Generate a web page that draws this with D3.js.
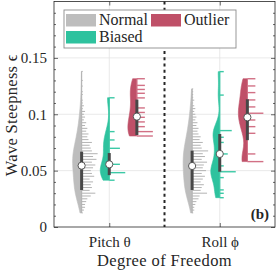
<!DOCTYPE html>
<html>
<head>
<meta charset="utf-8">
<script src="https://cdn.jsdelivr.net/npm/d3@7"></script>
<style>
  body { margin: 0; background: #fff; }
</style>
</head>
<body>
<div id="chart"></div>
<script>
// Categories
const dofs = ["Pitch θ", "Roll ϕ"];
const methods = ["Normal", "Biased", "Outlier"];
const yTicks = [0, 0.05, 0.1, 0.15];

// Histogram stems (value, count) for each DOF and method
const grayPitchVals = [0.0125,0.015,0.0175,0.02,0.0225,0.025,0.0275,0.03,0.0325,0.035,0.0375,0.04,0.0425,0.045,0.0475,0.05,0.0525,0.055,0.0575,0.06,0.0625,0.065,0.0675,0.07,0.0725,0.075,0.0775,0.08,0.0825,0.085,0.0875,0.09,0.0925,0.095,0.0975,0.1,0.1025,0.105,0.1075,0.11,0.1125,0.1175,0.12,0.125,0.13,0.138];
const grayPitchCounts = [1,2,3,3,4,5,8,12,7,9,8,10,7,11,9,8,10,12,9,13,10,14,9,8,7,9,6,5,6,4,5,3,4,2,3,2,3,1,2,1,1,1,1,1,1,1];
const grayRollVals = [0.0125,0.015,0.0175,0.02,0.0225,0.025,0.0275,0.03,0.0325,0.035,0.0375,0.04,0.0425,0.045,0.0475,0.05,0.0525,0.055,0.0575,0.06,0.0625,0.065,0.0675,0.07,0.0725,0.075,0.0775,0.08,0.0825,0.085,0.0875,0.09,0.0925,0.095,0.0975,0.1,0.1025,0.105,0.1075,0.11,0.1125,0.115,0.1175,0.12,0.1225];
const grayRollCounts = [1,2,2,3,4,6,7,14,8,9,11,8,10,12,9,13,10,11,14,9,12,10,15,9,8,10,7,8,6,5,6,4,5,3,4,3,2,3,2,1,2,1,1,1,1];
const greenPitchVals = [0.0415,0.0482,0.0556,0.0698,0.0772,0.0846,0.1146];
const greenPitchCounts = [1,3,2,2,1,1,1];
const greenRollVals = [0.026,0.0299,0.0329,0.0438,0.049,0.0542,0.0648,0.075,0.0796,0.0855,0.117,0.1378];
const greenRollCounts = [1,1,1,1,4,1,2,1,1,3,1,1];
const redPitchVals = [0.0807,0.0846,0.089,0.0932,0.0973,0.1016,0.1056,0.1145,0.1186,0.122,0.1256,0.1315];
const redPitchCounts = [2,2,1,1,1,1,1,1,1,1,1,1];
const redRollVals = [0.058,0.0648,0.0831,0.089,0.0949,0.1009,0.1065,0.1127,0.1192,0.1251,0.1315];
const redRollCounts = [2,1,1,1,1,2,1,1,1,1,1];

// Box stats per method (Normal, Biased, Outlier)
const pitchQ1 = [0.0328, 0.046, 0.0816];
const pitchMed = [0.0544, 0.0556, 0.0979];
const pitchQ3 = [0.0668, 0.0656, 0.113];
const rollQ1 = [0.0328, 0.049, 0.077];
const rollMed = [0.0541, 0.0648, 0.0973];
const rollQ3 = [0.0677, 0.0825, 0.1133];

const fills = ["#bdbdbd", "#2ec29e", "#bf5068"];
const stems = ["#b3b3b3", "#3cc9a6", "#d27085"];
const serif = "Liberation Serif";

const W = 278, H = 271;
const margin = {top: 1.5, right: 3, bottom: 44, left: 54};
const iw = W - margin.left - margin.right, ih = H - margin.top - margin.bottom;

const svg = d3.select("#chart").append("svg")
    .attr("width", W).attr("height", H);
const g = svg.append("g")
    .attr("transform", "translate(" + margin.left + "," + margin.top + ")");

const x = d3.scaleLinear().domain([0.5, 2.5]).range([0, iw]);
const y = d3.scaleLinear().domain([0, 0.2]).range([ih, 0]);

// Grid
g.selectAll(".hgrid").data(yTicks.slice(1)).enter().append("line")
    .attr("x1", 0).attr("x2", iw)
    .attr("y1", d => y(d)).attr("y2", d => y(d))
    .attr("stroke", "#e3e3e3").attr("stroke-width", 0.8);
g.selectAll(".vgrid").data([1, 2]).enter().append("line")
    .attr("x1", d => x(d)).attr("x2", d => x(d))
    .attr("y1", 0).attr("y2", ih)
    .attr("stroke", "#e3e3e3").attr("stroke-width", 0.8);

// Separator
g.append("line")
    .attr("x1", x(1.5)).attr("x2", x(1.5))
    .attr("y1", 0).attr("y2", ih)
    .attr("stroke", "#262626").attr("stroke-width", 2)
    .attr("stroke-dasharray", "3,3.2");

const groups = [
    [{vals: grayPitchVals, counts: grayPitchCounts, bw: 0.009},
     {vals: greenPitchVals, counts: greenPitchCounts, bw: 0.008},
     {vals: redPitchVals, counts: redPitchCounts, bw: 0.009}],
    [{vals: grayRollVals, counts: grayRollCounts, bw: 0.009},
     {vals: greenRollVals, counts: greenRollCounts, bw: 0.008},
     {vals: redRollVals, counts: redRollCounts, bw: 0.009}]
];
const boxes = [[pitchQ1, pitchMed, pitchQ3], [rollQ1, rollMed, rollQ3]];

groups.forEach((row, di) => {
    row.forEach((grp, mi) => {
        const cx = x(di + 1 + (mi - 1) * 0.25);
        const lo = d3.min(grp.vals), hi = d3.max(grp.vals);
        const grid = d3.range(0, 61).map(k => lo + (hi - lo) * k / 60);
        const dens = grid.map(v => ({
            v: v,
            d: d3.sum(grp.vals, (u, i) => grp.counts[i] * Math.exp(-0.5 * Math.pow((v - u) / grp.bw, 2)))
        }));
        const w = d3.scaleLinear().domain([0, d3.max(dens, d => d.d)]).range([0, 9]);
        const area = d3.area()
            .y(d => y(d.v))
            .x0(cx)
            .x1(d => cx - w(d.d))
            .curve(d3.curveBasis);
        g.append("path").datum(dens)
            .attr("d", area)
            .attr("fill", fills[mi])
            .attr("stroke", fills[mi]).attr("stroke-width", 0.6);

        // histogram stems
        const len = d3.scaleLinear().domain([0, d3.max(grp.counts)]).range([0, 16]);
        g.append("line")
            .attr("x1", cx).attr("x2", cx)
            .attr("y1", y(lo)).attr("y2", y(hi))
            .attr("stroke", stems[mi]).attr("stroke-width", 1);
        g.selectAll(null).data(grp.vals).enter().append("line")
            .attr("x1", cx).attr("x2", (d, i) => cx + len(grp.counts[i]))
            .attr("y1", d => y(d)).attr("y2", d => y(d))
            .attr("stroke", stems[mi])
            .attr("stroke-width", mi === 0 ? 1 : 1.4);

        // box + median
        const b = boxes[di];
        g.append("line")
            .attr("x1", cx).attr("x2", cx)
            .attr("y1", y(b[0][mi])).attr("y2", y(b[2][mi]))
            .attr("stroke", "#474747").attr("stroke-width", 3);
        g.append("circle")
            .attr("cx", cx).attr("cy", y(b[1][mi])).attr("r", 3.6)
            .attr("fill", "#fff").attr("stroke", "#474747").attr("stroke-width", 0.9);
    });
});

// Axes (inward ticks, box on)
const axisColor = "#262626";
const yAxisL = d3.axisLeft(y).tickValues(yTicks).tickSize(-4).tickPadding(7)
    .tickFormat(d => d === 0 ? "0" : String(+d.toFixed(2)));
g.append("g").call(yAxisL);
const yMinor = d3.range(0, 0.2, 0.01).filter(v => Math.round(v * 100) % 5 !== 0);
g.append("g").call(d3.axisLeft(y).tickValues(yMinor).tickSize(-2).tickFormat(""));
g.append("g").attr("transform", "translate(" + iw + ",0)")
    .call(d3.axisRight(y).tickValues(yTicks).tickSize(-4).tickFormat(""));
g.append("g").attr("transform", "translate(" + iw + ",0)")
    .call(d3.axisRight(y).tickValues(yMinor).tickSize(-2).tickFormat(""));
g.append("g").attr("transform", "translate(0," + ih + ")")
    .call(d3.axisBottom(x).tickValues([1, 2]).tickSize(-4).tickPadding(9)
        .tickFormat((d, i) => dofs[i]));
g.append("g")
    .call(d3.axisTop(x).tickValues([1, 2]).tickSize(-4).tickFormat(""));

g.selectAll(".domain").attr("stroke", "none");
g.selectAll(".tick line").attr("stroke", axisColor).attr("stroke-width", 0.7);
g.selectAll(".tick text").attr("fill", axisColor)
    .style("font-family", serif).style("font-size", "15px");

g.append("rect")
    .attr("width", iw).attr("height", ih)
    .attr("fill", "none").attr("stroke", axisColor).attr("stroke-width", 0.8);

// Axis labels
svg.append("text")
    .attr("x", margin.left + x(1.5)).attr("y", 266)
    .attr("text-anchor", "middle").attr("fill", axisColor)
    .style("font-family", serif)
    .style("font-size", "16.5px").style("letter-spacing", "0.4px")
    .text("Degree of Freedom");
svg.append("text")
    .attr("transform", "translate(17," + (margin.top + y(0.1) + 1) + ") rotate(-90)")
    .attr("text-anchor", "middle").attr("fill", axisColor)
    .style("font-family", serif)
    .style("font-size", "16.5px").style("letter-spacing", "0.3px")
    .text("Wave Steepness ϵ");

// Panel tag
g.append("text")
    .attr("x", iw - 6).attr("y", ih - 8)
    .attr("text-anchor", "end").attr("fill", axisColor)
    .style("font-family", serif)
    .style("font-size", "15px").style("font-weight", "bold")
    .text("(b)");

// Legend
const lg = svg.append("g").attr("transform", "translate(64,10)");
lg.append("rect").attr("width", 172).attr("height", 38)
    .attr("fill", "#fff").attr("stroke", "#8c8c8c").attr("stroke-width", 0.9);
const legPos = [[2, 4], [2, 21], [87, 4]];
methods.forEach((m, i) => {
    const it = lg.append("g").attr("transform", "translate(" + legPos[i][0] + "," + legPos[i][1] + ")");
    it.append("rect").attr("width", 30).attr("height", 12.5).attr("fill", fills[i]);
    it.append("text").attr("x", 33).attr("y", 11).attr("fill", axisColor)
        .style("font-family", serif)
        .style("font-size", "16px").text(m);
});
</script>
</body>
</html>
